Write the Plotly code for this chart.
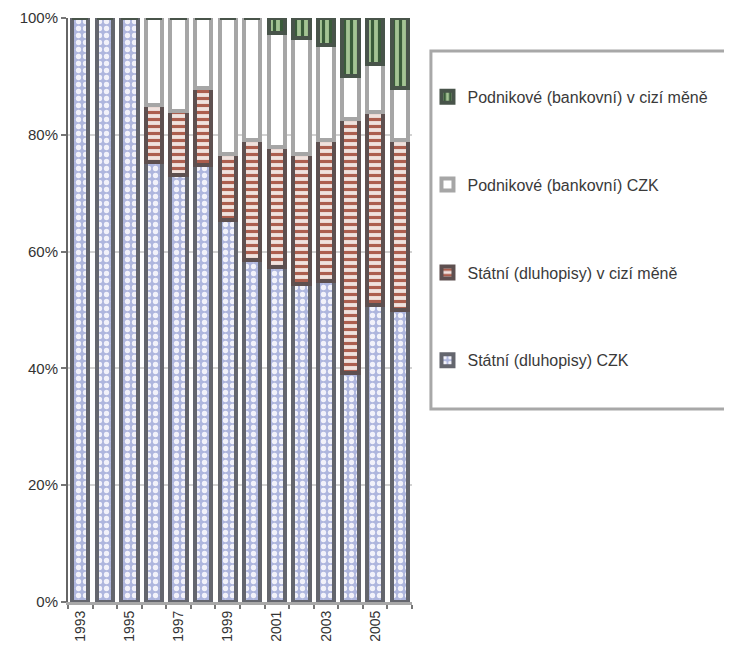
import plotly.graph_objects as go

categories = ["1993", "1994", "1995", "1996", "1997", "1998", "1999",
              "2000", "2001", "2002", "2003", "2004", "2005", "2006"]
tick_labels = [c if i % 2 == 0 else "" for i, c in enumerate(categories)]
y_tick_vals = [0, 20, 40, 60, 80, 100]
y_tick_labels = ["0%", "20%", "40%", "60%", "80%", "100%"]

series_names = [
    "Státní (dluhopisy) CZK",
    "Státní (dluhopisy) v cizí měně",
    "Podnikové (bankovní) CZK",
    "Podnikové (bankovní) v cizí měně",
]
s1 = [100, 100, 100, 75.3, 73.1, 74.8, 65.4, 58.6, 57.4, 54.5, 55.0, 39.2, 50.9, 50.0]
s2 = [0, 0, 0, 9.8, 11.0, 13.2, 11.3, 20.5, 20.5, 22.2, 24.1, 43.5, 33.0, 29.1]
s3 = [0, 0, 0, 14.9, 15.9, 12.0, 23.3, 20.9, 19.5, 19.8, 16.3, 7.3, 8.2, 8.9]
s4 = [0, 0, 0, 0, 0, 0, 0, 0, 2.6, 3.5, 4.6, 10.0, 7.9, 12.0]

styles = [
    dict(bg="#AEB6DE", fg="#F2F2FA", shape=".", line="#64666E"),
    dict(bg="#F0E2DE", fg="#AC5E4E", shape="-", line="#5E5050"),
    dict(bg="#FFFFFF", fg="#FFFFFF", shape="", line="#A6A6A6"),
    dict(bg="#A4C494", fg="#3A5C3A", shape="|", line="#48544A"),
]

fig = go.Figure()
for k, (name, vals, st) in enumerate(zip(series_names, [s1, s2, s3, s4], styles)):
    fig.add_trace(go.Bar(
        x=categories, y=vals, name=name, legendrank=10 - k,
        legendgroup=name,
        marker=dict(
            color=st["bg"],
            line=dict(color=st["line"], width=4),
            pattern=dict(shape=st["shape"], fgcolor=st["fg"], bgcolor=st["bg"],
                         size=7, solidity=0.45, fillmode="replace"),
        ),
    ))

fig.update_layout(
    width=724, height=648,
    barmode="stack", bargap=0.34,
    paper_bgcolor="white", plot_bgcolor="white",
    margin=dict(l=60, r=320, t=10, b=54, autoexpand=False),
    font=dict(family="Liberation Sans, Arial, sans-serif", size=14, color="#333333"),
    legend=dict(
        x=1.045, y=0.894, xanchor="left", yanchor="top",
        traceorder="grouped", tracegroupgap=64,
        font=dict(size=16, color="#3A3A3A"),
        bgcolor="rgba(0,0,0,0)", borderwidth=0,
    ),
    shapes=[dict(type="rect", xref="paper", yref="paper",
                 x0=1.055, x1=1.97, y0=0.3305, y1=0.9435,
                 line=dict(color="#A8A8A8", width=3), fillcolor="rgba(0,0,0,0)")],
)
fig.update_yaxes(
    range=[0, 100], tickmode="array", tickvals=y_tick_vals, ticktext=y_tick_labels,
    ticks="outside", ticklen=5, tickcolor="#777777", tickwidth=2,
    showgrid=True, gridcolor="#D2D2D2", gridwidth=2,
    showline=True, linecolor="#666666", linewidth=2,
    zeroline=False, tickfont=dict(size=15, color="#333333"),
)
fig.update_xaxes(
    type="category", tickmode="array", tickvals=categories, ticktext=tick_labels,
    tickangle=-90, tickson="boundaries", ticks="outside", ticklen=4,
    tickcolor="#777777", tickwidth=2,
    showline=True, linecolor="#A8A8A8", linewidth=3,
    automargin=False, tickfont=dict(size=14, color="#333333"),
)

fig.write_html("out.html")
